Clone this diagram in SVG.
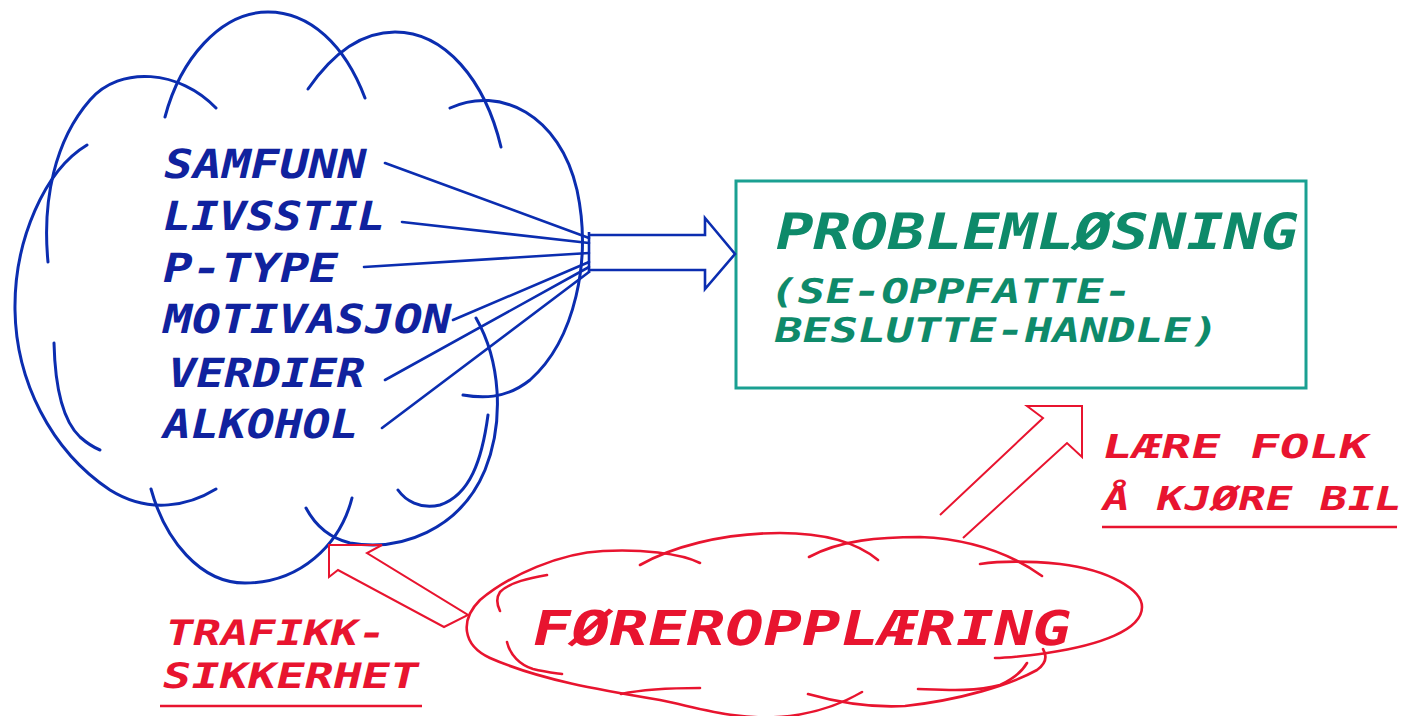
<svg xmlns="http://www.w3.org/2000/svg" width="1404" height="716" viewBox="0 0 1404 716">
<style>
.bl{fill:none;stroke:#0b2db0;stroke-width:3;stroke-linecap:round}
.fan{fill:none;stroke:#0b2db0;stroke-width:2.6;stroke-linecap:round}
.rd{fill:none;stroke:#e8142f;stroke-width:2.6;stroke-linecap:round}
.ra{fill:none;stroke:#e8142f;stroke-width:2;stroke-linejoin:miter}
text{font-family:"DejaVu Sans Mono","Liberation Mono",monospace;font-weight:bold}
.tb{font-size:40px;fill:#10229e}
.tg{fill:#0e8a6a}
.tr{fill:#e8142f}
</style>
<rect width="1404" height="716" fill="#ffffff"/>
<g id="factors-cloud">
<path class="bl" d="M87,145 C45,170 14,240 15,310 C16,380 50,450 110,490 C150,515 190,505 216,489"/>
<path class="bl" d="M48,262 C42,200 55,140 90,100 C120,65 180,70 216,108"/>
<path class="bl" d="M165,117 C180,60 220,12 268,12 C310,12 345,45 365,98"/>
<path class="bl" d="M308,89 C335,50 365,32 395,32 C445,32 485,80 501,147"/>
<path class="bl" d="M450,108 C500,85 560,115 577,190 C592,260 575,340 530,380 C505,400 480,398 463,395"/>
<path class="bl" d="M476,318 C500,360 505,420 485,470 C460,530 400,552 350,543 C330,538 315,525 306,508"/>
<path class="bl" d="M488,415 C482,460 470,495 440,505 C420,510 405,500 398,490"/>
<path class="bl" d="M151,489 C165,540 200,583 245,583 C300,583 340,545 352,498"/>
<path class="bl" d="M54,343 C55,385 62,420 80,437 C88,444 95,448 100,450"/>
<text class="tb" transform="translate(161,178) skewX(-13)" textLength="202" lengthAdjust="spacingAndGlyphs">SAMFUNN</text>
<text class="tb" transform="translate(160,230) skewX(-13)" textLength="222" lengthAdjust="spacingAndGlyphs">LIVSSTIL</text>
<text class="tb" transform="translate(160,282) skewX(-13)" textLength="175" lengthAdjust="spacingAndGlyphs">P-TYPE</text>
<text class="tb" transform="translate(160,333) skewX(-13)" textLength="288" lengthAdjust="spacingAndGlyphs">MOTIVASJON</text>
<text class="tb" transform="translate(165,387) skewX(-13)" textLength="197" lengthAdjust="spacingAndGlyphs">VERDIER</text>
<text class="tb" transform="translate(160,438) skewX(-13)" textLength="195" lengthAdjust="spacingAndGlyphs">ALKOHOL</text>
</g>
<g id="problemlosning">
<rect x="736" y="181" width="570" height="207" fill="none" stroke="#1aa092" stroke-width="3"/>
<text class="tg" transform="translate(772,249) skewX(-13)" font-size="50" textLength="522" lengthAdjust="spacingAndGlyphs">PROBLEMLØSNING</text>
<text class="tg" transform="translate(767,303) skewX(-13)" font-size="34" textLength="362" lengthAdjust="spacingAndGlyphs">(SE-OPPFATTE-</text>
<text class="tg" transform="translate(772,342) skewX(-13)" font-size="34" textLength="444" lengthAdjust="spacingAndGlyphs">BESLUTTE-HANDLE)</text>
</g>
<g id="foreropplaering">
<path class="rd" d="M700,563 C680,553 640,549 603,551 C560,553 510,575 480,600 C460,620 462,645 490,658 C540,680 600,690 660,700 C700,708 740,722 790,716 C820,712 845,702 862,692"/>
<path class="rd" d="M640,565 C670,548 720,533 780,533 C830,533 860,545 878,560"/>
<path class="rd" d="M809,557 C840,540 880,537 920,537 C970,539 1010,553 1042,576"/>
<path class="rd" d="M980,564 C1000,561 1030,561 1060,564 C1110,570 1142,590 1142,607 C1142,630 1100,645 1047,653 C1025,656 1005,658 995,658"/>
<path class="rd" d="M547,575 C530,578 510,582 500,592 C496,598 497,605 500,611"/>
<path class="rd" d="M507,642 C510,655 520,665 533,669 C545,672 555,673 562,674"/>
<path class="rd" d="M621,694 C640,690 670,688 700,688"/>
<path class="rd" d="M808,694 C840,703 870,708 905,706 C960,700 1010,685 1037,670 C1048,662 1046,654 1043,649"/>
<path class="rd" d="M918,689 C945,690 975,692 1000,685 C1015,678 1023,670 1027,663"/>
<text class="tr" transform="translate(529,645) skewX(-13)" font-size="48" textLength="538" lengthAdjust="spacingAndGlyphs">FØREROPPLÆRING</text>
</g>
<g id="trafikksikkerhet">
<text class="tr" transform="translate(163,645) skewX(-13)" font-size="35" textLength="220" lengthAdjust="spacingAndGlyphs">TRAFIKK-</text>
<text class="tr" transform="translate(160,688) skewX(-13)" font-size="35" textLength="256" lengthAdjust="spacingAndGlyphs">SIKKERHET</text>
<line x1="160" y1="706" x2="422" y2="706" stroke="#e8142f" stroke-width="2.4"/>
</g>
<g id="laere-folk">
<text class="tr" transform="translate(1100,458) skewX(-13)" font-size="33" textLength="266" lengthAdjust="spacingAndGlyphs">LÆRE FOLK</text>
<text class="tr" transform="translate(1100,510) skewX(-13)" font-size="33" textLength="299" lengthAdjust="spacingAndGlyphs">Å KJØRE BIL</text>
<line x1="1102" y1="527" x2="1397" y2="527" stroke="#e8142f" stroke-width="2.4"/>
</g>
<g id="connectors">
<line class="fan" x1="385" y1="163" x2="589" y2="238"/>
<line class="fan" x1="402" y1="222" x2="589" y2="243"/>
<line class="fan" x1="364" y1="267" x2="589" y2="253"/>
<line class="fan" x1="453" y1="320" x2="589" y2="262"/>
<line class="fan" x1="385" y1="380" x2="589" y2="267"/>
<line class="fan" x1="382" y1="428" x2="589" y2="272"/>
<path fill="none" stroke="#0b2db0" stroke-width="2.6" stroke-linejoin="miter" d="M589,232 L589,273 M589,235 L705,235 L705,218 L735,254 L705,289 L705,270 L589,270"/>
<path class="ra" d="M444,627 L338,570 L329,577 L329,545 L382,545 L367,553 L468,615 Z"/>
<path class="ra" d="M940,515 L1043,418 L1027,406 L1082,406 L1082,457 L1067,443 L963,538"/>
</g>
</svg>
